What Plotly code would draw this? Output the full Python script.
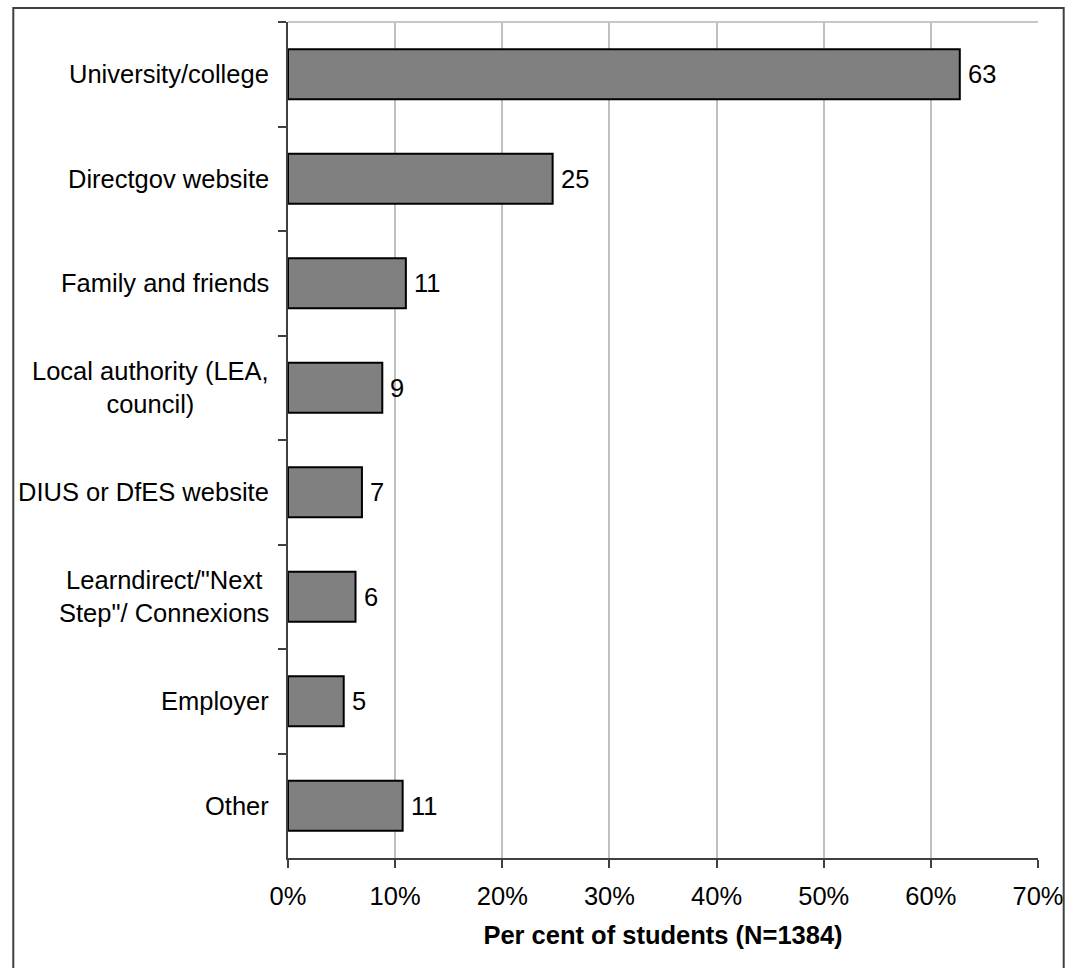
import plotly.graph_objects as go

categories = [
    "University/college",
    "Directgov website",
    "Family and friends",
    "Local authority (LEA,<br>council)",
    "DIUS or DfES website",
    "Learndirect/\"Next<br>Step\"/ Connexions",
    "Employer",
    "Other",
]
values = [62.7, 24.7, 11.0, 8.8, 6.9, 6.3, 5.2, 10.7]
labels = ["63", "25", "11", "9", "7", "6", "5", "11"]
x_ticks = [0, 10, 20, 30, 40, 50, 60, 70]
x_ticktext = ["0%", "10%", "20%", "30%", "40%", "50%", "60%", "70%"]

FONT = "Liberation Sans, Arial, sans-serif"
FS = 25.5
W, H = 1076, 968
L, R, T, B = 288, 1047, 22, 858

fig = go.Figure()
fig.add_trace(go.Bar(
    x=values, y=categories, orientation="h",
    marker=dict(color="#808080", line=dict(color="black", width=2)),
    hoverinfo="skip",
))

annotations = []
for c, v, lab in zip(categories, values, labels):
    annotations.append(dict(x=v, y=c, xref="x", yref="y", text=lab, showarrow=False,
                            xanchor="left", xshift=6, font=dict(size=FS, color="black", family=FONT)))
    annotations.append(dict(x=0, y=c, xref="paper", yref="y", text=c, showarrow=False,
                            xanchor="right", xshift=-17, align="center",
                            font=dict(size=FS, color="black", family=FONT)))

pw, ph = R - L, B - T
shapes = [
    # outer frame
    dict(type="rect", xref="paper", yref="paper",
         x0=(10 - L) / pw, x1=(1073 - L) / pw,
         y0=(B - 975) / ph, y1=(B - 8) / ph,
         line=dict(color="#404040", width=2), fillcolor="rgba(0,0,0,0)", layer="above"),
    # top border of plot area
    dict(type="line", xref="paper", yref="paper", x0=0, x1=1, y0=1, y1=1,
         line=dict(color="#b4b4b4", width=1.5), layer="below"),
]

fig.update_layout(
    width=W, height=H,
    margin=dict(l=L, r=W - R, t=T, b=H - B, pad=0),
    paper_bgcolor="white", plot_bgcolor="white",
    bargap=0.52,
    showlegend=False,
    font=dict(family=FONT, size=FS, color="black"),
    annotations=annotations,
    shapes=shapes,
    xaxis=dict(
        range=[0, 70], tickvals=x_ticks, ticktext=x_ticktext,
        showgrid=True, gridcolor="#c0c0c0", gridwidth=1.5,
        showline=True, linecolor="#404040", linewidth=2,
        ticks="outside", ticklen=8, tickcolor="#404040", tickwidth=1.5,
        tickfont=dict(size=FS, color="black", family=FONT),
        ticklabelstandoff=6,
        zeroline=False,
        title=dict(text="<b>Per cent of students (N=1384)</b>",
                   font=dict(size=25.5, color="black", family=FONT), standoff=18),
    ),
    yaxis=dict(
        autorange="reversed",
        showticklabels=False,
        showline=True, linecolor="#404040", linewidth=2,
        ticks="outside", ticklen=8, tickcolor="#404040", tickwidth=1.5,
        tickson="boundaries",
        showgrid=False, zeroline=False,
    ),
)

fig.write_html("out.html")
